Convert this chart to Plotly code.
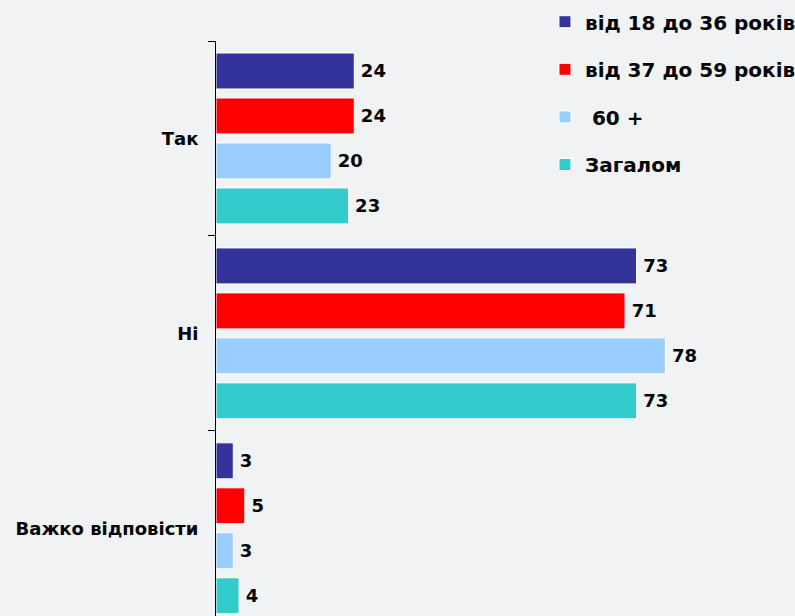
import plotly.graph_objects as go

categories = ["Так", "Ні", "Важко відповісти"]
series_names = ["від 18 до 36 років", "від 37 до 59 років", " 60 +", "Загалом"]
values_18_36 = [24, 73, 3]
values_37_59 = [24, 71, 5]
values_60 = [20, 78, 3]
values_total = [23, 73, 4]
colors = ["#333399", "#ff0000", "#99ccff", "#33cccc"]

all_values = [values_18_36, values_37_59, values_60, values_total]
FONT = "DejaVu Sans"

fig = go.Figure()
for i, (name, vals, col) in enumerate(zip(series_names, all_values, colors)):
    fig.add_trace(go.Bar(
        y=categories, x=vals, orientation="h", name=name,
        marker=dict(color=col, line=dict(color="white", width=1)),
        text=vals, texttemplate="<b>\u2009%{x}</b>", textposition="outside",
        textfont=dict(family=FONT, size=18, color="black"),
        cliponaxis=False, legendgroup=f"g{i}",
    ))

fig.update_layout(
    width=795, height=616,
    margin=dict(l=216, r=0, t=41, b=0, autoexpand=False),
    paper_bgcolor="#f0f2f4", plot_bgcolor="#f0f2f4",
    barmode="group", bargap=0.077, bargroupgap=0.2,
    font=dict(family=FONT, color="black"),
    showlegend=True,
    legend=dict(
        xref="container", yref="container", x=0.6855, y=0.9964,
        xanchor="left", yanchor="top",
        traceorder="grouped", tracegroupgap=18.6,
        font=dict(family=FONT, size=20, color="black", weight="bold"),
        bgcolor="rgba(0,0,0,0)",
    ),
    xaxis=dict(range=[0, 100.5], autorange=False, visible=False, fixedrange=True),
    yaxis=dict(
        type="category", range=[2.45, -0.5], autorange=False,
        showline=True, linecolor="black", linewidth=1,
        ticks="outside", ticklen=7, tickcolor="black", tickson="boundaries",
        showgrid=False, zeroline=False,
        tickfont=dict(family=FONT, size=18, color="black", weight="bold"),
        ticklabelstandoff=13,
    ),
)

fig.write_html("out.html", config={"displayModeBar": False},
               post_script="document.body.style.margin='0';")
